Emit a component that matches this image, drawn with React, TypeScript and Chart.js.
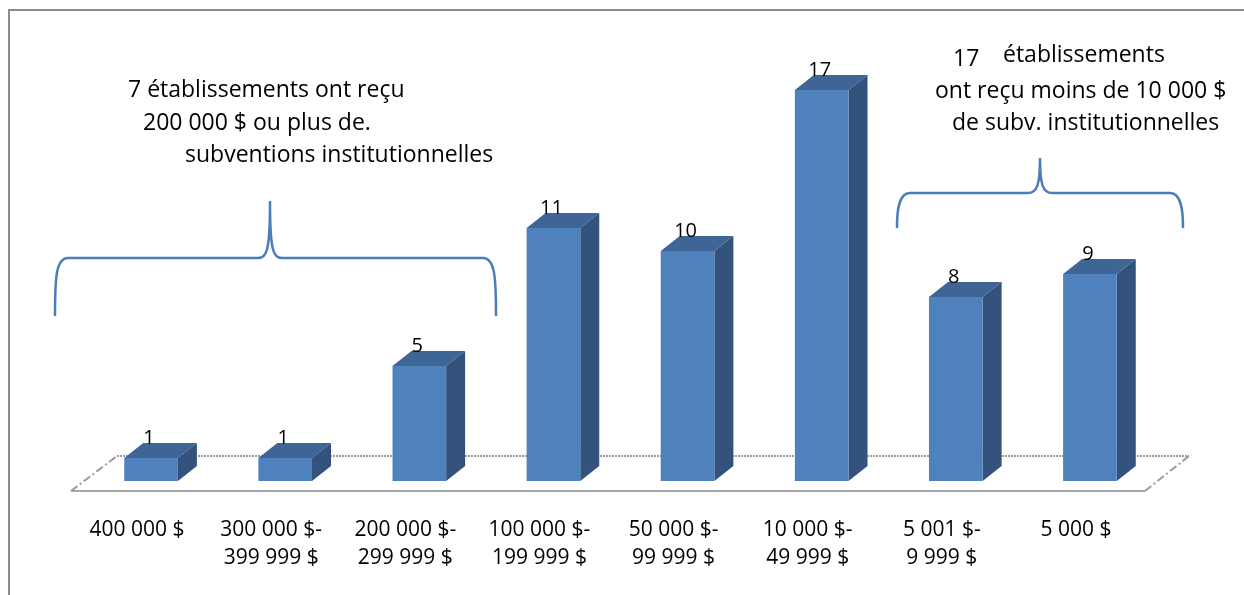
import { useEffect, useRef } from "react";
import { Chart, registerables } from "chart.js";

Chart.register(...registerables);

const WIDTH = 1244;
const HEIGHT = 595;
const FONT = "'Open Sans', 'Noto Sans', sans-serif";

// Grant brackets (x axis) and number of institutions in each
const categories: string[][] = [
  ["400 000 $"],
  ["300 000 $-", "399 999 $"],
  ["200 000 $-", "299 999 $"],
  ["100 000 $-", "199 999 $"],
  ["50 000 $-", "99 999 $"],
  ["10 000 $-", "49 999 $"],
  ["5 001 $-", "9 999 $"],
  ["5 000 $"],
];
const establishments = [1, 1, 5, 11, 10, 17, 8, 9];

// Callout texts
const leftNote = [
  "7 établissements ont reçu",
  "200 000 $ ou plus de.",
  "subventions institutionnelles",
];
const rightNoteCount = "17";
const rightNote = [
  "établissements",
  "ont reçu moins de 10 000 $",
  "de subv. institutionnelles",
];

const FRONT = "#4f81bd";
const TOP = "#3e6595";
const SIDE = "#33537d";
const BRACE = "#4a7ebb";
const DX = 19;
const DY = 15;

const frame = {
  id: "frame",
  beforeDraw(chart: Chart) {
    const { ctx } = chart;
    ctx.save();
    ctx.fillStyle = "#ffffff";
    ctx.fillRect(0, 0, chart.width, chart.height);
    ctx.strokeStyle = "#8c8c8c";
    ctx.lineWidth = 2;
    ctx.strokeRect(9, 10, chart.width + 20, chart.height + 20);
    ctx.restore();
  },
};

const bar3d = {
  id: "bar3d",
  beforeDatasetsDraw(chart: Chart) {
    const { ctx, chartArea } = chart;
    const y0 = chart.scales.y.getPixelForValue(0);
    // floor plane
    const fl = chartArea.left - 13;
    const fr = chartArea.right - 12;
    const fy = y0 + 10;
    const bl = chartArea.left + 33;
    const br = chartArea.right + 32;
    const by = y0 - 25;
    ctx.save();
    ctx.strokeStyle = "#a6a6a6";
    ctx.lineWidth = 2;
    ctx.beginPath();
    ctx.moveTo(fl, fy);
    ctx.lineTo(fr, fy);
    ctx.stroke();
    ctx.strokeStyle = "#9c9c9c";
    ctx.setLineDash([2, 1]);
    ctx.beginPath();
    ctx.moveTo(bl, by);
    ctx.lineTo(br, by);
    ctx.stroke();
    ctx.setLineDash([8, 3, 2, 3]);
    ctx.beginPath();
    ctx.moveTo(fl, fy);
    ctx.lineTo(bl, by);
    ctx.moveTo(fr, fy);
    ctx.lineTo(br, by);
    ctx.stroke();
    ctx.setLineDash([]);

    const meta = chart.getDatasetMeta(0);
    meta.data.forEach((el: any) => {
      const { x, y, base, width } = el.getProps(["x", "y", "base", "width"], true);
      const x0 = x - width / 2;
      const x1 = x + width / 2;
      ctx.fillStyle = TOP;
      ctx.beginPath();
      ctx.moveTo(x0, y);
      ctx.lineTo(x0 + DX, y - DY);
      ctx.lineTo(x1 + DX, y - DY);
      ctx.lineTo(x1, y);
      ctx.closePath();
      ctx.fill();
      ctx.fillStyle = SIDE;
      ctx.beginPath();
      ctx.moveTo(x1, y);
      ctx.lineTo(x1 + DX, y - DY);
      ctx.lineTo(x1 + DX, base - DY);
      ctx.lineTo(x1, base);
      ctx.closePath();
      ctx.fill();
    });
    ctx.restore();
  },
  afterDatasetsDraw(chart: Chart) {
    const { ctx } = chart;
    const meta = chart.getDatasetMeta(0);
    const values = chart.data.datasets[0].data as number[];
    ctx.save();
    ctx.fillStyle = "#000";
    ctx.font = `20px ${FONT}`;
    ctx.textAlign = "center";
    ctx.textBaseline = "alphabetic";
    meta.data.forEach((el: any, i: number) => {
      const { x, y } = el.getProps(["x", "y"], true);
      ctx.fillText(String(values[i]), x - 2, y - 14);
    });
    ctx.restore();
  },
};

function drawBrace(ctx: CanvasRenderingContext2D, x0: number, x1: number, tipX: number, yEnd: number, yMid: number, yTip: number) {
  ctx.beginPath();
  ctx.moveTo(x0, yEnd);
  ctx.bezierCurveTo(x0, yMid + 20, x0 + 1, yMid, x0 + 13, yMid);
  ctx.lineTo(tipX - 12, yMid);
  ctx.bezierCurveTo(tipX - 3, yMid, tipX, yMid - 8, tipX, yTip);
  ctx.bezierCurveTo(tipX, yMid - 8, tipX + 3, yMid, tipX + 12, yMid);
  ctx.lineTo(x1 - 13, yMid);
  ctx.bezierCurveTo(x1 - 1, yMid, x1, yMid + 20, x1, yEnd);
  ctx.stroke();
}

const callouts = {
  id: "callouts",
  afterDraw(chart: Chart) {
    const { ctx } = chart;
    ctx.save();
    ctx.fillStyle = "#000";
    ctx.font = `23px ${FONT}`;
    ctx.textAlign = "left";
    ctx.textBaseline = "alphabetic";
    ctx.fillText(leftNote[0], 128, 97);
    ctx.fillText(leftNote[1], 143, 130);
    ctx.fillText(leftNote[2], 185, 162);
    ctx.fillText(rightNoteCount, 953, 66);
    ctx.fillText(rightNote[0], 1003, 62);
    ctx.fillText(rightNote[1], 935, 98);
    ctx.fillText(rightNote[2], 952, 130);

    ctx.strokeStyle = BRACE;
    ctx.lineWidth = 2.5;
    ctx.lineCap = "round";
    drawBrace(ctx, 55, 496, 270, 315, 258, 201);
    drawBrace(ctx, 897, 1183, 1040, 227, 193, 158);
    ctx.restore();
  },
};

export default function App() {
  const canvasRef = useRef<HTMLCanvasElement | null>(null);

  useEffect(() => {
    const canvas = canvasRef.current;
    if (!canvas) return;
    const chart = new Chart(canvas, {
      type: "bar",
      data: {
        labels: categories,
        datasets: [
          {
            data: establishments,
            backgroundColor: FRONT,
            borderWidth: 0,
            barPercentage: 0.4,
            categoryPercentage: 1,
          },
        ],
      },
      options: {
        responsive: false,
        animation: false,
        devicePixelRatio: 1,
        layout: { padding: { left: 84, right: 87, top: 21, bottom: 23 } },
        plugins: {
          legend: { display: false },
          tooltip: { enabled: false },
        },
        scales: {
          x: {
            grid: { display: false, drawTicks: false },
            border: { display: false },
            ticks: {
              color: "#000",
              font: { family: FONT, size: 21, lineHeight: "28px" },
              padding: 35,
              labelOffset: -14,
              maxRotation: 0,
              autoSkip: false,
            },
            afterFit(scale: any) {
              scale.height = 91;
            },
          },
          y: { display: false, min: 0, max: 20 },
        },
      },
      plugins: [frame, bar3d, callouts],
    });
    return () => chart.destroy();
  }, []);

  return (
    <div style={{ position: "fixed", left: 0, top: 0, width: WIDTH, height: HEIGHT, background: "#fff" }}>
      <canvas ref={canvasRef} width={WIDTH} height={HEIGHT} style={{ display: "block" }} />
    </div>
  );
}
